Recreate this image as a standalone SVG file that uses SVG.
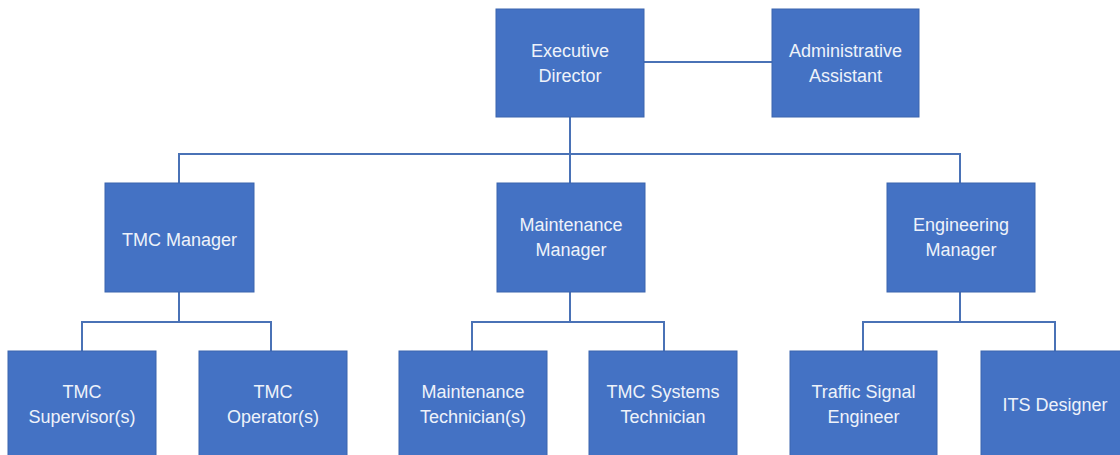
<svg xmlns="http://www.w3.org/2000/svg" width="1120" height="455" viewBox="0 0 1120 455">
<style>
.box{fill:#4472C4;stroke:#3A64AE;stroke-width:1}
.lbl{font-family:"Liberation Sans",Arial,sans-serif;font-size:18px;fill:#EEF2FA;text-anchor:middle}
.con{fill:none;stroke:#4A72B6;stroke-width:2}
</style>
<rect width="1120" height="455" fill="#ffffff"/>
<g id="connectors">
<path class="con" d="M644 62H772"/>
<path class="con" d="M570 117V154"/>
<path class="con" d="M179 183V154H960V183"/>
<path class="con" d="M570 154V183"/>
<path class="con" d="M179 292V322"/>
<path class="con" d="M82 351V322H271V351"/>
<path class="con" d="M570 292V322"/>
<path class="con" d="M472 351V322H664V351"/>
<path class="con" d="M960 292V322"/>
<path class="con" d="M863 351V322H1055V351"/>
</g>
<g id="executive-director"><rect class="box" x="496" y="9" width="148" height="108"/><text class="lbl" x="570" y="57">Executive</text><text class="lbl" x="570" y="82">Director</text></g>
<g id="administrative-assistant"><rect class="box" x="772" y="9" width="147" height="108"/><text class="lbl" x="845.5" y="57">Administrative</text><text class="lbl" x="845.5" y="82">Assistant</text></g>
<g id="tmc-manager"><rect class="box" x="105" y="183" width="149" height="109"/><text class="lbl" x="179.5" y="246">TMC Manager</text></g>
<g id="maintenance-manager"><rect class="box" x="497" y="183" width="148" height="109"/><text class="lbl" x="571" y="231">Maintenance</text><text class="lbl" x="571" y="256">Manager</text></g>
<g id="engineering-manager"><rect class="box" x="887" y="183" width="148" height="109"/><text class="lbl" x="961" y="231">Engineering</text><text class="lbl" x="961" y="256">Manager</text></g>
<g id="tmc-supervisors"><rect class="box" x="8" y="351" width="148" height="110"/><text class="lbl" x="82" y="398">TMC</text><text class="lbl" x="82" y="423">Supervisor(s)</text></g>
<g id="tmc-operators"><rect class="box" x="199" y="351" width="148" height="110"/><text class="lbl" x="273" y="398">TMC</text><text class="lbl" x="273" y="423">Operator(s)</text></g>
<g id="maintenance-technicians"><rect class="box" x="399" y="351" width="148" height="110"/><text class="lbl" x="473" y="398">Maintenance</text><text class="lbl" x="473" y="423">Technician(s)</text></g>
<g id="tmc-systems-technician"><rect class="box" x="589" y="351" width="148" height="110"/><text class="lbl" x="663" y="398">TMC Systems</text><text class="lbl" x="663" y="423">Technician</text></g>
<g id="traffic-signal-engineer"><rect class="box" x="790" y="351" width="147" height="110"/><text class="lbl" x="863.5" y="398">Traffic Signal</text><text class="lbl" x="863.5" y="423">Engineer</text></g>
<g id="its-designer"><rect class="box" x="981" y="351" width="148" height="110"/><text class="lbl" x="1055" y="411">ITS Designer</text></g>
</svg>
